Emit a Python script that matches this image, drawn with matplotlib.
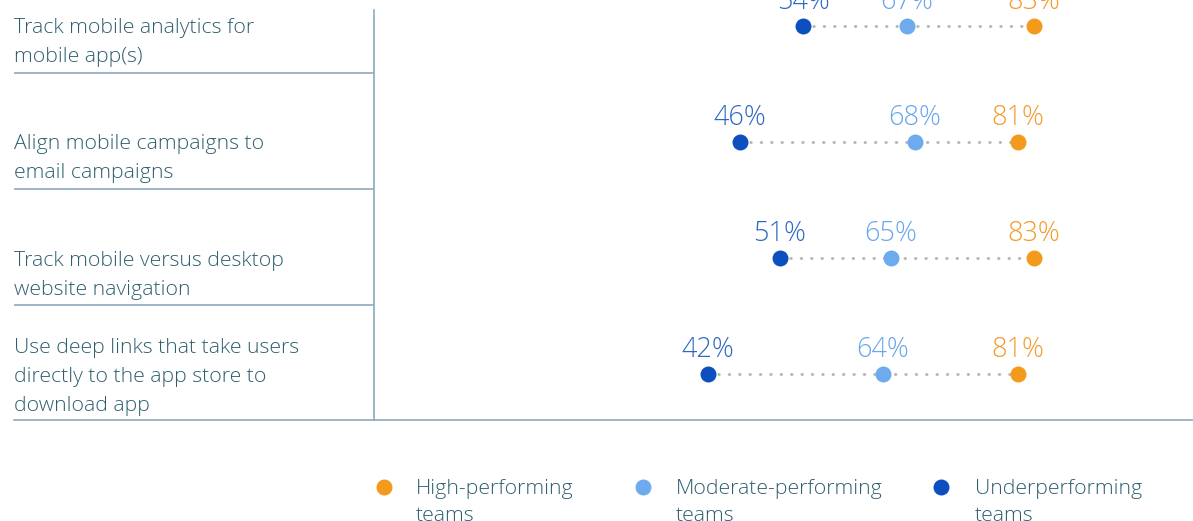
import matplotlib
matplotlib.use("Agg")
import matplotlib.pyplot as plt
from matplotlib.lines import Line2D

categories = [
    "Track mobile analytics for\nmobile app(s)",
    "Align mobile campaigns to\nemail campaigns",
    "Track mobile versus desktop\nwebsite navigation",
    "Use deep links that take users\ndirectly to the app store to\ndownload app",
]
under = [54, 46, 51, 42]
moderate = [67, 68, 65, 64]
high = [83, 81, 83, 81]
series_names = ["High-performing\nteams", "Moderate-performing\nteams", "Underperforming\nteams"]

plt.rcParams['font.family'] = ['Open Sans', 'DejaVu Sans']

TEXT = '#2f5f6f'
LINE = '#8ea9bf'
C_HIGH = '#f39a1c'
C_MOD = '#6eaaee'
C_UNDER = '#0d4fbf'
L_UNDER = '#2e68c2'
L_MOD = '#6aa6ec'
L_HIGH = '#f29a2a'

W, H = 1193, 521
fig = plt.figure(figsize=(W / 100, H / 100), dpi=100)
fig.patch.set_facecolor('white')

top_px, bot_px = 0, 420
ax = fig.add_axes([374 / W, 1 - bot_px / H, (W - 374) / W, (bot_px - top_px) / H])
axl = fig.add_axes([14 / W, 1 - bot_px / H, (374 - 14) / W, (bot_px - top_px) / H], sharey=ax)

ylo, yhi = 3.49, -0.129
ax.set_ylim(ylo, yhi)
ax.set_xlim(0, 103)
axl.set_xlim(0, 1)

dot_off = 0.095
n = len(categories)
ys = [i + dot_off for i in range(n)]

for i in range(n):
    ax.plot([under[i], high[i]], [ys[i], ys[i]], color='#b8b8b8', lw=2.2,
            linestyle=(0, (0.1, 3.3)), dash_capstyle='round', zorder=1)
ms = 11.5
ax.plot(high, ys, 'o', color=C_HIGH, ms=ms, mec='none', zorder=3)
ax.plot(moderate, ys, 'o', color=C_MOD, ms=ms, mec='none', zorder=3)
ax.plot(under, ys, 'o', color=C_UNDER, ms=ms, mec='none', zorder=3)

lab_off = 0.21
for vals, col in [(under, L_UNDER), (moderate, L_MOD), (high, L_HIGH)]:
    for i, v in enumerate(vals):
        ax.text(v, ys[i] - lab_off, f"{v}%", ha='center', va='center',
                fontsize=19.5, color=col, clip_on=False, fontweight='light')

for i, cat in enumerate(categories):
    axl.text(0, i + 0.5 - 0.048, cat, ha='left', va='bottom', fontsize=15.3,
             color=TEXT, linespacing=1.6, fontweight='light')

for i in range(n - 1):
    axl.axhline(i + 0.5, color=LINE, lw=1.2)

for a in (ax, axl):
    for s in ('top', 'right'):
        a.spines[s].set_visible(False)
    a.spines['bottom'].set_color(LINE)
    a.spines['bottom'].set_linewidth(1.2)
    a.set_xticks([])
    a.set_yticks([])
    a.tick_params(left=False, bottom=False, labelleft=False, labelbottom=False)
axl.spines['left'].set_visible(False)
ax.spines['left'].set_color(LINE)
ax.spines['left'].set_linewidth(1.2)
ax.spines['left'].set_bounds(ylo, yhi + 10 / 116)
ax.patch.set_alpha(0)
axl.patch.set_alpha(0)

# legend (manual: marker aligned with first text line)
leg_colors = [C_HIGH, C_MOD, C_UNDER]
leg_marker_x = [384, 643, 941]
leg_text_x = [416, 676, 975]
leg_y = 487
for name, col, mx, tx in zip(series_names, leg_colors, leg_marker_x, leg_text_x):
    fig.add_artist(Line2D([mx / W], [1 - leg_y / H], marker='o', ls='none',
                          color=col, ms=ms, mec='none', transform=fig.transFigure))
    fig.text(tx / W, 1 - (leg_y - 8) / H, name, ha='left', va='top',
             fontsize=15.3, color=TEXT, linespacing=1.45, fontweight='light')

fig.savefig('out.png', dpi=100)
